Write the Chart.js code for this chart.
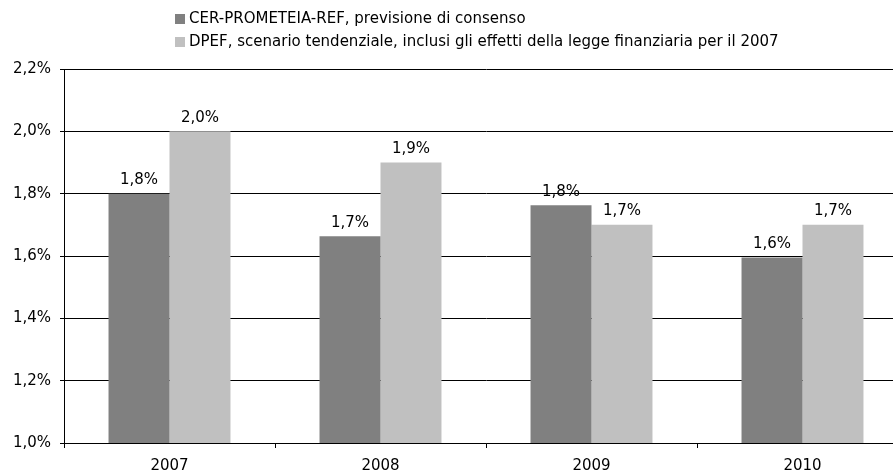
<!DOCTYPE html>
<html>
<head>
<meta charset="utf-8">
<script src="https://cdn.jsdelivr.net/npm/chart.js@4/dist/chart.umd.min.js"></script>
<style>
  html, body { margin: 0; padding: 0; background: #fff; overflow: hidden; }
  #wrap { position: relative; width: 908px; height: 472px; }
  #legend { position: absolute; left: 175px; top: 7px; font: 15px "DejaVu Sans", Verdana, sans-serif; color: #000; }
  #legend div { height: 23px; line-height: 23px; white-space: nowrap; }
  #legend span.box { display: inline-block; width: 10px; height: 10px; margin-right: 4px; vertical-align: -1px; }
</style>
</head>
<body>
<div id="wrap">
  <div id="legend"></div>
  <canvas id="chart" width="908" height="472"></canvas>
</div>
<script>
const years = ['2007', '2008', '2009', '2010'];
const seriesNames = [
  'CER-PROMETEIA-REF, previsione di consenso',
  'DPEF, scenario tendenziale, inclusi gli effetti della legge finanziaria per il 2007'
];
const consenso = [1.80, 1.663, 1.763, 1.595];
const dpef = [2.00, 1.90, 1.70, 1.70];
const seriesColors = ['#808080', '#c0c0c0'];
const yMin = 1.0, yMax = 2.2, yStep = 0.2;

const fmt = v => v.toFixed(1).replace('.', ',') + '%';

// legend in html, one line per series
const legendEl = document.getElementById('legend');
seriesNames.forEach((name, i) => {
  const row = document.createElement('div');
  row.innerHTML = '<span class="box" style="background:' + seriesColors[i] + '"></span>' + name;
  legendEl.appendChild(row);
});

const valueLabels = {
  id: 'valueLabels',
  afterDatasetsDraw(chart) {
    const ctx = chart.ctx;
    ctx.save();
    ctx.font = '15px "DejaVu Sans", Verdana, sans-serif';
    ctx.fillStyle = '#000';
    ctx.textAlign = 'center';
    ctx.textBaseline = 'bottom';
    chart.data.datasets.forEach((ds, i) => {
      chart.getDatasetMeta(i).data.forEach((bar, j) => {
        ctx.fillText(fmt(ds.data[j]), bar.x, bar.y - 6);
      });
    });
    ctx.restore();
  }
};

new Chart(document.getElementById('chart'), {
  type: 'bar',
  data: {
    labels: years,
    datasets: [
      { label: seriesNames[0], data: consenso, backgroundColor: seriesColors[0] },
      { label: seriesNames[1], data: dpef, backgroundColor: seriesColors[1] }
    ]
  },
  options: {
    responsive: false,
    animation: false,
    events: [],
    layout: { padding: { top: 69, left: 0, right: 0, bottom: 0 } },
    datasets: { bar: { categoryPercentage: 0.578, barPercentage: 1.0 } },
    plugins: { legend: { display: false }, tooltip: { enabled: false } },
    scales: {
      x: {
        grid: { drawOnChartArea: false, tickLength: 5, color: '#000' },
        border: { color: '#000', width: 1 },
        ticks: { color: '#000', padding: 9, font: { family: '"DejaVu Sans", Verdana, sans-serif', size: 15 } },
        afterFit: s => { s.height = 29; }
      },
      y: {
        min: yMin,
        max: yMax,
        grid: { color: '#000', tickLength: 4 },
        border: { color: '#000', width: 1 },
        ticks: {
          stepSize: yStep,
          color: '#000',
          padding: 9,
          font: { family: '"DejaVu Sans", Verdana, sans-serif', size: 15 },
          callback: v => fmt(v)
        },
        afterFit: s => { s.width = 64; }
      }
    }
  },
  plugins: [valueLabels]
});
</script>
</body>
</html>
